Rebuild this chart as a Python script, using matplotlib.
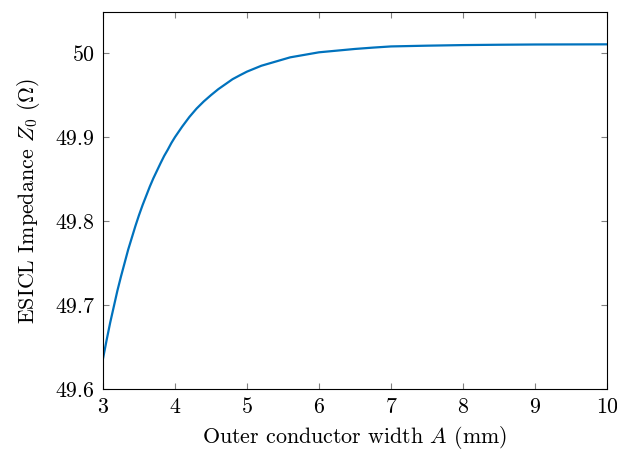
import numpy as np
import matplotlib as mpl
mpl.use("Agg")
import matplotlib.pyplot as plt

mpl.rcParams['font.family'] = 'serif'
mpl.rcParams['font.serif'] = ['cmr10']
mpl.rcParams['mathtext.fontset'] = 'cm'
mpl.rcParams['axes.unicode_minus'] = False
mpl.rcParams['axes.formatter.use_mathtext'] = True
mpl.rcParams['font.size'] = 15.8

# outer conductor width A (mm) vs ESICL impedance Z0 (ohm)
width_mm = [3.0, 3.05, 3.1, 3.15, 3.2, 3.25, 3.3, 3.35, 3.4, 3.45,
            3.5, 3.55, 3.6, 3.65, 3.7, 3.75, 3.8, 3.85, 3.9, 3.95,
            4.0, 4.1, 4.2, 4.3, 4.4, 4.5, 4.6, 4.7, 4.8, 4.9,
            5.0, 5.2, 5.4, 5.6, 5.8, 6.0, 6.25, 6.5, 6.75, 7.0,
            7.5, 8.0, 8.5, 9.0, 9.5, 10.0]
impedance = [49.636, 49.658, 49.679, 49.698, 49.717, 49.734, 49.750, 49.766, 49.780, 49.794,
             49.807, 49.819, 49.830, 49.841, 49.851, 49.860, 49.869, 49.8776, 49.885, 49.893,
             49.900, 49.9125, 49.924, 49.934, 49.9425, 49.950, 49.957, 49.963, 49.969, 49.9736,
             49.978, 49.985, 49.990, 49.995, 49.998, 50.001, 50.003, 50.005, 50.0066, 50.008,
             50.0089, 50.0096, 50.0100, 50.0103, 50.0104, 50.0105]

xticks = [3, 4, 5, 6, 7, 8, 9, 10]
yticks = [49.6, 49.7, 49.8, 49.9, 50.0]
ytick_labels = ['49.6', '49.7', '49.8', '49.9', '50']

fig = plt.figure(figsize=(6.17, 4.53), dpi=100)
ax = fig.add_axes([0.1669, 0.1413, 0.8169, 0.8322])

ax.plot(width_mm, impedance, color='#0072BD', lw=1.6, solid_joinstyle='round')

ax.set_xlim(3, 10)
ax.set_ylim(49.6, 50.049)
ax.set_xticks(xticks)
ax.set_xticklabels([str(t) for t in xticks])
ax.set_yticks(yticks)
ax.set_yticklabels(ytick_labels)
ax.tick_params(direction='in', top=True, right=True, length=4.5, width=0.8,
               color='#808080', pad=6)
for s in ax.spines.values():
    s.set_linewidth(0.8)

ax.set_xlabel(r'Outer conductor width $A$ (mm)', labelpad=5)
ax.set_ylabel(r'ESICL Impedance $Z_0$ ($\Omega$)', labelpad=10)

fig.savefig('out.png', dpi=100)
